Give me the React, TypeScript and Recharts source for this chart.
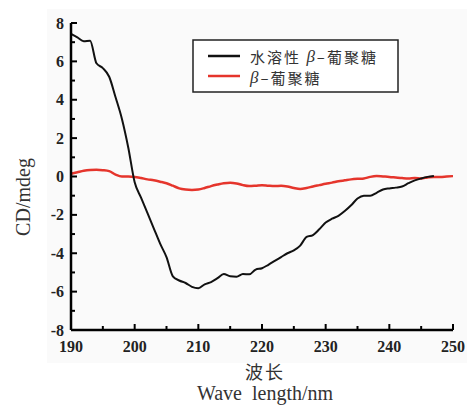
import React from 'react';
import { LineChart, Line, XAxis, YAxis } from 'recharts';

const wavelengths = [190,191,192,193,194,195,196,197,198,199,200,201,202,203,204,205,206,207,208,209,210,211,212,213,214,215,216,217,218,219,220,221,222,223,224,225,226,227,228,229,230,231,232,233,234,235,236,237,238,239,240,241,242,243,244,245,246,247,248,249,250];
const solubleGlucan = [7.43,7.25,7.05,7.08,5.9,5.65,5.2,4.13,3.0,1.5,-0.3,-1.1,-1.9,-2.7,-3.5,-4.2,-5.2,-5.42,-5.55,-5.75,-5.82,-5.62,-5.5,-5.3,-5.08,-5.2,-5.22,-5.08,-5.1,-4.85,-4.78,-4.6,-4.4,-4.2,-4.0,-3.85,-3.6,-3.15,-3.05,-2.75,-2.4,-2.2,-2.05,-1.8,-1.5,-1.15,-1.0,-1.0,-0.85,-0.68,-0.62,-0.58,-0.52,-0.35,-0.2,-0.1,-0.02,0.02,null,null,null];
const betaGlucan = [0.14,0.22,0.3,0.34,0.35,0.33,0.28,0.1,0.0,0.0,-0.02,-0.08,-0.15,-0.2,-0.27,-0.35,-0.48,-0.62,-0.68,-0.7,-0.68,-0.6,-0.5,-0.42,-0.35,-0.32,-0.36,-0.45,-0.5,-0.48,-0.45,-0.48,-0.5,-0.48,-0.52,-0.6,-0.65,-0.6,-0.52,-0.45,-0.38,-0.32,-0.25,-0.2,-0.15,-0.12,-0.1,-0.02,0.02,0.0,-0.02,-0.05,-0.08,-0.1,-0.08,-0.1,-0.05,-0.02,-0.02,0.0,0.02];
const xTicks = [190,195,200,205,210,215,220,225,230,235,240,245,250];
const yTicks = [-8,-7,-6,-5,-4,-3,-2,-1,0,1,2,3,4,5,6,7,8];
const legendNames = ['水溶性', '葡聚糖'];

const data = wavelengths.map((w, i) => ({ w, soluble: solubleGlucan[i], beta: betaGlucan[i] }));

const serif = '"Liberation Serif", "DejaVu Serif", serif';
const cjkFont = '"Noto Sans CJK SC", "Noto Sans", sans-serif';
const tickFont = { fontFamily: serif, fontWeight: 700, fontSize: 16 };

const XTick = (props: any) => {
  const { x, y, payload } = props;
  const major = payload.value % 10 === 0;
  return (
    <g>
      <line x1={x} x2={x} y1={y} y2={y - (major ? 6 : 4)} stroke="#000" strokeWidth={2} />
      {major && (
        <text x={x} y={y + 16} textAnchor="middle" dominantBaseline="central" fill="#222" style={tickFont}>{payload.value}</text>
      )}
    </g>
  );
};

const YTick = (props: any) => {
  const { x, y, payload } = props;
  const major = payload.value % 2 === 0;
  return (
    <g>
      <line x1={x} x2={x + (major ? 6 : 4)} y1={y} y2={y} stroke="#000" strokeWidth={2} />
      {major && (
        <text x={x - 7} y={y} textAnchor="end" dominantBaseline="central" fill="#222" style={tickFont}>{payload.value}</text>
      )}
    </g>
  );
};

const labelFont = { fontFamily: serif, fontSize: 20, fill: '#333' };

export default function App() {
  return (
    <div style={{ position: 'absolute', left: 0, top: 0, width: 467, height: 406, background: '#fff' }}>
      <div style={{ position: 'absolute', left: 47, top: 9, width: 420, height: 354, background: '#fafafa' }} />
      <div style={{ position: 'absolute', left: 0, top: 0 }}>
        <LineChart width={467} height={406} data={data} margin={{ top: 23, right: 14, bottom: 46, left: 0 }}>
          <XAxis
            dataKey="w"
            type="number"
            domain={[190, 250]}
            ticks={xTicks}
            interval={0}
            tickSize={0}
            tickMargin={0}
            height={30}
            axisLine={{ stroke: '#000', strokeWidth: 2.5 }}
            tickLine={false}
            tick={<XTick />}
            label={{
              content: () => (
                <g>
                  <text x={265} y={371} textAnchor="middle" dominantBaseline="central" style={{ fontFamily: cjkFont, fontSize: 18, letterSpacing: 2, fill: '#333' }}>波长</text>
                  <text x={265} y={393} textAnchor="middle" dominantBaseline="central" style={{ ...labelFont, whiteSpace: 'pre' }}>{'Wave  length/nm'}</text>
                </g>
              ),
            }}
          />
          <YAxis
            type="number"
            domain={[-8, 8]}
            ticks={yTicks}
            interval={0}
            tickSize={0}
            tickMargin={0}
            width={71}
            axisLine={{ stroke: '#000', strokeWidth: 2.5 }}
            tickLine={false}
            tick={<YTick />}
            label={{
              content: () => (
                <text x={23} y={197} textAnchor="middle" dominantBaseline="central" transform="rotate(-90 23 197)" style={labelFont}>CD/mdeg</text>
              ),
            }}
          />
          <Line type="monotone" dataKey="beta" stroke="#e5352c" strokeWidth={2.5} dot={false} isAnimationActive={false} />
          <Line type="monotone" dataKey="soluble" stroke="#111" strokeWidth={2} dot={false} isAnimationActive={false} />
        </LineChart>
      </div>
      <svg width={207} height={54} style={{ position: 'absolute', left: 192, top: 39 }}>
        <rect x={1} y={1} width={205} height={52} fill="#fff" stroke="#222" strokeWidth={1.5} />
        <line x1={16} x2={48} y1={17} y2={17} stroke="#111" strokeWidth={2.5} />
        <line x1={16} x2={48} y1={37} y2={37} stroke="#e5352c" strokeWidth={2.5} />
        <text x={58} y={17} dominantBaseline="central" fill="#333" style={{ fontFamily: cjkFont, fontSize: 15, letterSpacing: 2 }}>
          {legendNames[0]} <tspan style={{ fontFamily: serif, fontStyle: 'italic', fontSize: 17 }}>β</tspan>–{legendNames[1]}
        </text>
        <text x={58} y={38} dominantBaseline="central" fill="#333" style={{ fontFamily: cjkFont, fontSize: 15, letterSpacing: 2 }}>
          <tspan style={{ fontFamily: serif, fontStyle: 'italic', fontSize: 17 }}>β</tspan>–{legendNames[1]}
        </text>
      </svg>
    </div>
  );
}
